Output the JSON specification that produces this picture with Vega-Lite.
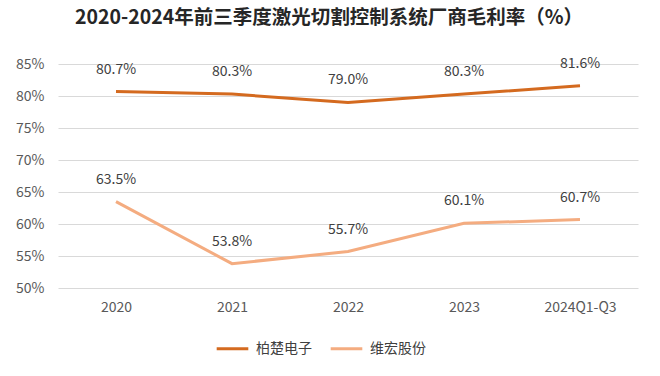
{
  "$schema": "https://vega.github.io/schema/vega-lite/v6.json",
  "width": 580,
  "height": 224,
  "autosize": {"type": "none"},
  "padding": {"left": 58, "top": 64, "right": 22, "bottom": 88},
  "background": "white",
  "config": {
    "font": "Noto Sans CJK SC",
    "view": {"stroke": null}
  },
  "title": {
    "text": "2020-2024年前三季度激光切割控制系统厂商毛利率（%）",
    "fontSize": 19.5,
    "fontWeight": "bold",
    "color": "#262626",
    "anchor": "middle",
    "dx": -19,
    "offset": 28
  },
  "data": {
    "values": [
      {"period": "2020", "company": "柏楚电子", "rate": 0.807},
      {"period": "2021", "company": "柏楚电子", "rate": 0.803},
      {"period": "2022", "company": "柏楚电子", "rate": 0.790},
      {"period": "2023", "company": "柏楚电子", "rate": 0.803},
      {"period": "2024Q1-Q3", "company": "柏楚电子", "rate": 0.816},
      {"period": "2020", "company": "维宏股份", "rate": 0.635},
      {"period": "2021", "company": "维宏股份", "rate": 0.538},
      {"period": "2022", "company": "维宏股份", "rate": 0.557},
      {"period": "2023", "company": "维宏股份", "rate": 0.601},
      {"period": "2024Q1-Q3", "company": "维宏股份", "rate": 0.607}
    ]
  },
  "encoding": {
    "x": {
      "field": "period",
      "type": "ordinal",
      "sort": null,
      "scale": {"type": "point", "padding": 0.5},
      "axis": {
        "title": null,
        "labelAngle": 0,
        "ticks": false,
        "domain": false,
        "grid": false,
        "labelFontSize": 14,
        "labelColor": "#595959",
        "labelPadding": 12
      }
    },
    "y": {
      "field": "rate",
      "type": "quantitative",
      "scale": {"domain": [0.5, 0.85], "nice": false, "zero": false},
      "axis": {
        "title": null,
        "values": [0.5, 0.55, 0.6, 0.65, 0.7, 0.75, 0.8, 0.85],
        "format": ".0%",
        "ticks": false,
        "domain": false,
        "grid": true,
        "gridColor": "#D9D9D9",
        "gridWidth": 1,
        "labelFontSize": 14,
        "labelColor": "#595959",
        "labelPadding": 14
      }
    }
  },
  "layer": [
    {
      "mark": {"type": "line", "strokeWidth": 3},
      "encoding": {
        "color": {
          "field": "company",
          "type": "nominal",
          "scale": {"domain": ["柏楚电子", "维宏股份"], "range": ["#D46A1F", "#F4AC80"]},
          "legend": {
            "title": null,
            "orient": "none",
            "direction": "horizontal",
            "legendX": 157,
            "legendY": 267,
            "symbolType": "stroke",
            "symbolStrokeWidth": 3,
            "symbolSize": 1000,
            "labelFontSize": 14,
            "labelColor": "#404040",
            "columnPadding": 12,
            "labelOffset": 6
          }
        }
      }
    },
    {
      "mark": {"type": "text", "dy": -22, "fontSize": 14, "color": "#404040"},
      "encoding": {
        "text": {"field": "rate", "type": "quantitative", "format": ".1%"},
        "detail": {"field": "company"}
      }
    }
  ]
}
